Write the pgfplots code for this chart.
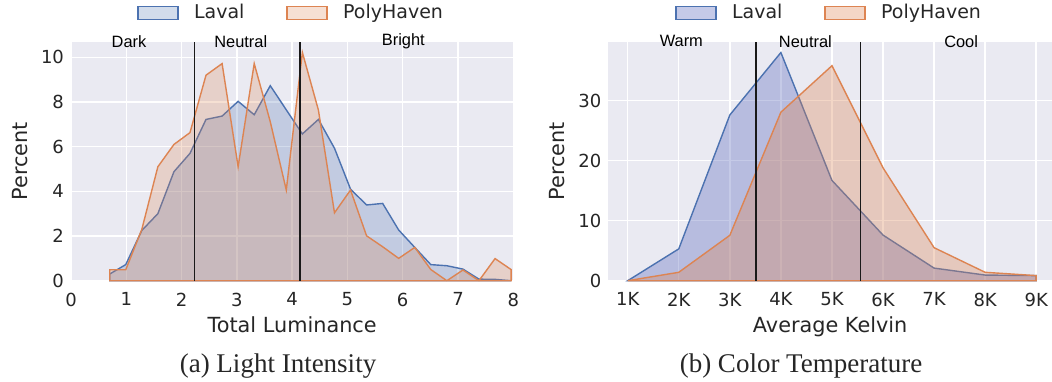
\documentclass[border=0pt]{standalone}
\usepackage{fontspec}
\setmainfont{DejaVu Sans}
\newfontfamily\arialfont{Liberation Sans}
\newfontfamily\capfont{Liberation Serif}
\usepackage{pgfplots}
\pgfplotsset{compat=1.18}

\definecolor{sbblue}{HTML}{4C72B0}
\definecolor{sborange}{HTML}{DD8452}
\definecolor{sbbg}{HTML}{EAEAF2}
\definecolor{lav}{RGB}{89,104,189}
\definecolor{txt}{HTML}{262626}

\pgfplotsset{
  sbstyle/.style={
    scale only axis, anchor=south west,
    axis background/.style={fill=sbbg},
    axis line style={draw=none},
    major tick length=0pt,
    grid=major, major grid style={white, line width=0.7pt},
    tick label style={font=\fontsize{9}{10}\selectfont, text=txt},
    xticklabel style={yshift=-2.5pt},
    label style={font=\fontsize{10.4}{12}\selectfont, text=txt},
    xlabel style={yshift=1.5pt},
    /pgf/number format/assume math mode=true,
    legend columns=2,
    legend style={draw=none, fill=none, at={(0.5,1)}, anchor=center, yshift=14.35pt,
      font=\fontsize{9.5}{11}\selectfont, text=txt,
      /tikz/every even column/.append style={column sep=19pt}},
    legend image code/.code={\draw[##1] (0pt,-3.25pt) rectangle (20pt,3.25pt);
      \path[draw=none, fill=none] (20pt,0pt) -- (26pt,0pt);},
    clip=false,
    ymin=0,
  }
}

\begin{document}
\begin{tikzpicture}
\useasboundingbox (0,0) rectangle (526pt,190.5pt);

\begin{axis}[sbstyle,
  at={(35.5pt,50.15pt)}, width=221.15pt, height=119.5pt,
  xmin=0, xmax=8, ymax=10.7,
  xtick={0,1,...,8}, ytick={0,2,...,10},
  xlabel={Total Luminance}, ylabel={Percent},
]
\addplot[draw=sbblue, line width=0.7pt, fill=sbblue, fill opacity=0.25] coordinates {
(0.700,0) (0.700,0.30) (0.990,0.72) (1.281,2.25) (1.571,3.00) (1.862,4.88) (2.152,5.70)
(2.442,7.22) (2.733,7.37) (3.023,8.03) (3.314,7.43) (3.604,8.73) (3.894,7.65)
(4.185,6.57) (4.475,7.22) (4.766,5.93) (5.056,4.10) (5.346,3.39) (5.637,3.46)
(5.927,2.27) (6.218,1.49) (6.508,0.72) (6.798,0.67) (7.089,0.52) (7.379,0.07)
(7.670,0.06) (7.960,0.00)} \closedcycle;
\addlegendentry{Laval}
\addplot[draw=sborange, line width=0.7pt, fill=sborange, fill opacity=0.25] coordinates {
(0.700,0) (0.700,0.49) (0.990,0.49) (1.281,2.30) (1.571,5.10) (1.862,6.10) (2.152,6.63)
(2.442,9.20) (2.733,9.72) (3.023,5.10) (3.314,9.72) (3.604,7.12) (3.894,4.06)
(4.185,10.22) (4.475,7.64) (4.766,3.04) (5.056,4.06) (5.346,2.01) (5.637,1.52)
(5.927,1.00) (6.218,1.49) (6.508,0.50) (6.798,0.00) (7.089,0.48) (7.379,0.00)
(7.670,0.99) (7.960,0.50) (7.960,0)} \closedcycle;
\addlegendentry{PolyHaven}
\draw[black!90, line width=0.75pt] (2.23,0) -- (2.23,10.7);
\draw[black!90, line width=0.75pt] (4.14,0) -- (4.14,10.7);
\node[font=\arialfont\fontsize{8.2}{10}\selectfont] at (1.05,10.72) {Dark};
\node[font=\arialfont\fontsize{8.2}{10}\selectfont] at (3.07,10.72) {Neutral};
\node[font=\arialfont\fontsize{8.2}{10}\selectfont] at (6.01,10.72) {Bright};
\end{axis}

\begin{axis}[sbstyle,
  at={(304.15pt,50.15pt)}, width=221.85pt, height=119.5pt,
  xmin=0.62, xmax=9.31, ymax=39.8,
  xtick={1,...,9}, xticklabels={1K,2K,3K,4K,5K,6K,7K,8K,9K},
  ytick={0,10,20,30},
  xlabel={Average Kelvin}, ylabel={Percent},
]
\addplot[draw=sbblue, line width=0.7pt, fill=lav, fill opacity=0.35] coordinates {
(1,0) (2,5.3) (3,27.6) (4,38.0) (5,16.7) (6,7.6) (7,2.1) (8,0.94) (9,0.85) (9,0)} \closedcycle;
\addlegendentry{Laval}
\addplot[draw=sborange, line width=0.7pt, fill=sborange, fill opacity=0.33] coordinates {
(1,0) (2,1.4) (3,7.56) (4,28.06) (5,35.8) (6,18.8) (7,5.5) (8,1.4) (9,0.85) (9,0)} \closedcycle;
\addlegendentry{PolyHaven}
\draw[black!90, line width=0.75pt] (3.51,0) -- (3.51,39.8);
\draw[black!90, line width=0.75pt] (5.56,0) -- (5.56,39.8);
\node[font=\arialfont\fontsize{8.2}{10}\selectfont] at (2.05,39.85) {Warm};
\node[font=\arialfont\fontsize{8.2}{10}\selectfont] at (4.48,39.85) {Neutral};
\node[font=\arialfont\fontsize{8.2}{10}\selectfont] at (7.53,39.85) {Cool};
\end{axis}

\node[font=\capfont\fontsize{13.5}{15}\selectfont, text=txt] at (139pt,7.5pt) {(a) Light Intensity};
\node[font=\capfont\fontsize{13.5}{15}\selectfont, text=txt] at (400.5pt,7.5pt) {(b) Color Temperature};
\end{tikzpicture}
\end{document}
